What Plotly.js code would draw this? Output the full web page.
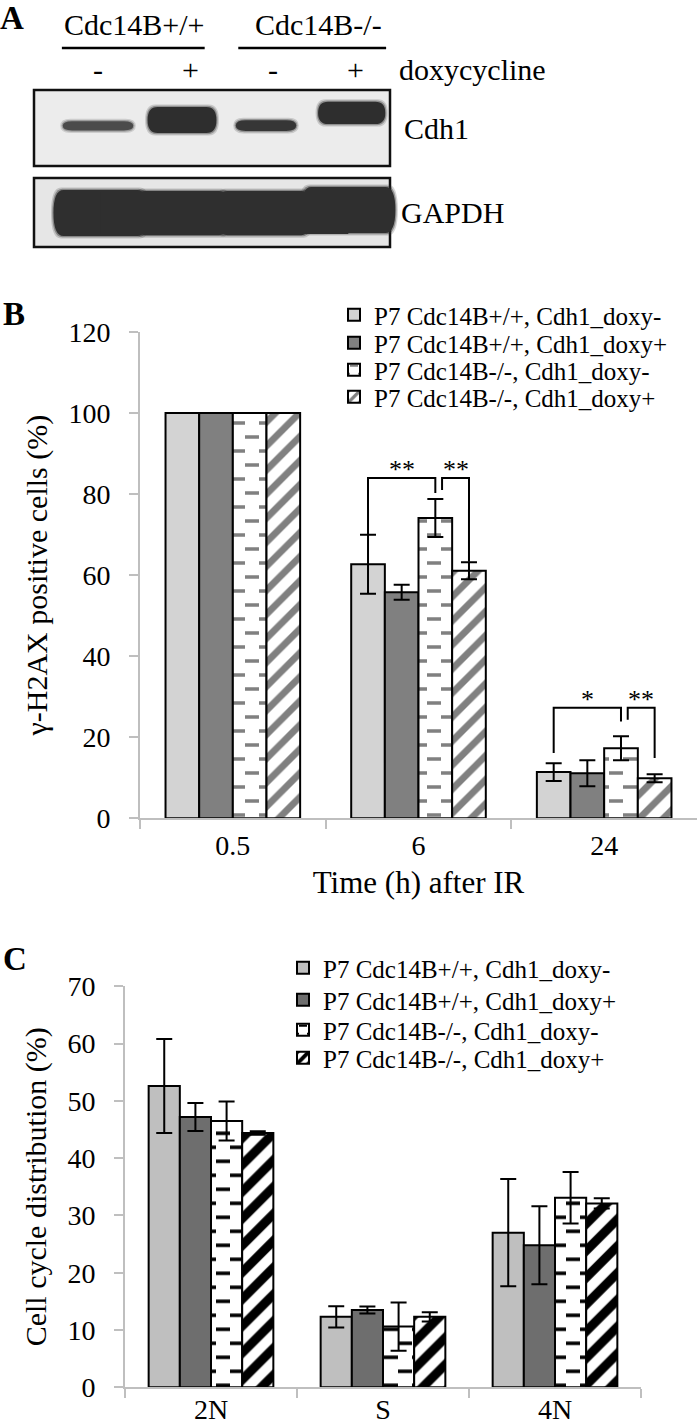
<!DOCTYPE html>
<html><head><meta charset="utf-8">
<script src="https://cdn.plot.ly/plotly-3.0.1.min.js"></script>
<style>html,body{margin:0;padding:0;background:#fff}#chart{width:700px;height:1427px}</style>
</head><body><div id="chart"></div>
<script>
// ---------- Data ----------
const seriesNames = ['P7 Cdc14B+/+, Cdh1_doxy-', 'P7 Cdc14B+/+, Cdh1_doxy+', 'P7 Cdc14B-/-, Cdh1_doxy-', 'P7 Cdc14B-/-, Cdh1_doxy+'];

// Panel B: gamma-H2AX positive cells (%)
const timeCats = ['0.5', '6', '24'];
const h2axMean = [
  [100, 62.7, 11.4],
  [100, 55.8, 11.1],
  [100, 74.1, 17.3],
  [100, 61.1, 9.9]
];
const h2axErr = [
  [null, 7.3, 2.2],
  [null, 1.85, 3.2],
  [null, 4.7, 2.95],
  [null, 2.1, 1.0]
];
const sigCat = [1, 1, 2, 2];
const sigFrom = [0, 2.2, 0, 2.2];
const sigTo = [2, 3, 2, 3];
const sigTop = [84.0, 84.0, 27.3, 27.3];
const sigLeftEnd = [70.0, 81.0, 16.1, 24.3];
const sigRightEnd = [80.3, 63.3, 23.9, 14.9];
const sigLabel = ['**', '**', '*', '**'];

// Panel C: cell cycle distribution (%)
const phaseCats = ['2N', 'S', '4N'];
const cycleMean = [
  [52.6, 12.3, 27.0],
  [47.2, 13.5, 24.8],
  [46.5, 10.6, 33.1],
  [44.4, 12.3, 32.1]
];
const cycleErr = [
  [8.2, 1.85, 9.35],
  [2.45, 0.6, 6.8],
  [3.4, 4.2, 4.5],
  [0.3, 0.8, 0.9]
];

// Panel A: western blot
const blotLanes = [1, 2, 3, 4];
const laneDoxy = ['-', '+', '-', '+'];
const genotypes = ['Cdc14B+/+', 'Cdc14B-/-'];
const cdh1Intensity = [0.12, 1.0, 0.2, 0.8];
const gapdhIntensity = [1.0, 0.96, 0.96, 1.0];

// ---------- Styles ----------
const FONT = 'Liberation Serif, Times New Roman, serif';
const W = 700, H = 1427;
const py = p => 1 - p / H;
const bargap = 0.275;
const barW = (1 - bargap) / 4;

const colorsB = ['#d3d3d3', '#808080', '#ffffff', '#ffffff'];
const patternsB = [
  {shape: ''}, {shape: ''},
  {shape: '-', fgcolor: '#808080', bgcolor: '#ffffff', size: 14, solidity: 0.25, fillmode: 'replace'},
  {shape: '/', fgcolor: '#808080', bgcolor: '#ffffff', size: 17, solidity: 0.4, fillmode: 'replace'}
];
const colorsC = ['#bfbfbf', '#6e6e6e', '#ffffff', '#ffffff'];
const patternsC = [
  {shape: ''}, {shape: ''},
  {shape: '-', fgcolor: '#000000', bgcolor: '#ffffff', size: 14, solidity: 0.25, fillmode: 'replace'},
  {shape: '/', fgcolor: '#000000', bgcolor: '#ffffff', size: 19, solidity: 0.48, fillmode: 'replace'}
];
const legendRowsB = [315, 343, 370, 397];
const legendRowsC = [968, 1000, 1030, 1058];

const traces = [];
for (let i = 0; i < 4; i++) {
  traces.push({
    type: 'bar', x: timeCats, y: h2axMean[i], name: seriesNames[i],
    xaxis: 'x', yaxis: 'y', legend: i === 0 ? 'legend' : 'legend' + (i + 1), showlegend: true,
    marker: {color: colorsB[i], line: {color: '#000', width: 2}, pattern: patternsB[i]},
    error_y: {type: 'data', array: h2axErr[i], visible: true, color: '#000', thickness: 2, width: 8},
    hoverinfo: 'skip'
  });
}
for (let i = 0; i < 4; i++) {
  traces.push({
    type: 'bar', x: phaseCats, y: cycleMean[i], name: seriesNames[i],
    xaxis: 'x2', yaxis: 'y2', legend: 'legend' + (i + 5), showlegend: true,
    marker: {color: colorsC[i], line: {color: '#000', width: 2}, pattern: patternsC[i]},
    error_y: {type: 'data', array: cycleErr[i], visible: true, color: '#000', thickness: 2, width: 8},
    hoverinfo: 'skip'
  });
}

const shapes = [];
const annotations = [];

const barX = (cat, idx) => cat + (idx - 1.5) * barW;
for (let k = 0; k < sigCat.length; k++) {
  const xl = barX(sigCat[k], sigFrom[k]);
  const xr = barX(sigCat[k], sigTo[k]);
  shapes.push({type: 'path', xref: 'x', yref: 'y',
    path: `M${xl},${sigLeftEnd[k]}L${xl},${sigTop[k]}L${xr},${sigTop[k]}L${xr},${sigRightEnd[k]}`,
    line: {color: '#000', width: 2}});
  annotations.push({xref: 'x', yref: 'y', x: (xl + xr) / 2, y: sigTop[k], text: sigLabel[k],
    showarrow: false, xanchor: 'center', yanchor: 'middle', yshift: 8, font: {family: FONT, size: 26, color: '#000'}});
}

// ---------- Panel A blot ----------
const laneToPx = 84;
const pxL = v => v / laneToPx;
const boxL = 1 + (34 - 98) / laneToPx, boxR = 1 + (390 - 98) / laneToPx;
shapes.push({type: 'rect', xref: 'x3', yref: 'y3', x0: boxL, x1: boxR, y0: 90, y1: 166,
  fillcolor: '#ececec', line: {color: '#111', width: 2.5}, layer: 'below'});
shapes.push({type: 'rect', xref: 'x3', yref: 'y3', x0: boxL, x1: boxR, y0: 178, y1: 247,
  fillcolor: '#e6e6e6', line: {color: '#111', width: 2.5}, layer: 'below'});

function band(cx, halfW, yT, yB, color, op) {
  const x0 = cx - halfW, x1 = cx + halfW, ym = (yT + yB) / 2, r = pxL(Math.min(10, (yB - yT)));
  return {type: 'path', xref: 'x3', yref: 'y3', layer: 'above',
    path: `M${x0},${ym}Q${x0},${yT} ${x0 + r},${yT}L${x1 - r},${yT}Q${x1},${yT} ${x1},${ym}Q${x1},${yB} ${x1 - r},${yB}L${x0 + r},${yB}Q${x0},${yB} ${x0},${ym}Z`,
    fillcolor: color, opacity: op, line: {width: 0}};
}
const cdh1Bottom = [130.5, 133, 131, 124];
const cdh1HalfW = [0.42, 0.41, 0.36, 0.40];
const cdh1Color = ['#444444', '#262626', '#2e2e2e', '#262626'];
for (let i = 0; i < blotLanes.length; i++) {
  const h = 7 + cdh1Intensity[i] * 19;
  const yB = cdh1Bottom[i], yT = yB - h;
  const cx = blotLanes[i] + (i === 3 ? 0.02 : 0);
  [[2.5, 0.18], [1.2, 0.35], [0, 0.92]].forEach(([g, op]) => {
    shapes.push(band(cx, cdh1HalfW[i] + pxL(g), yT - g, yB + g, cdh1Color[i], op));
  });
}
const gapdhTop = [190, 191, 191, 187];
const gapdhCx = [1.03, 2.0, 2.98, 3.98];
for (let i = 0; i < blotLanes.length; i++) {
  const h = 46 * gapdhIntensity[i];
  const yT = gapdhTop[i], yB = yT + h;
  [[2.5, 0.2], [1.2, 0.4]].forEach(([g, op]) => {
    shapes.push(band(gapdhCx[i], 0.56 + pxL(g), yT - g, yB + g, '#2d2d2d', op));
  });
}
for (let i = 0; i < blotLanes.length; i++) {
  const h = 46 * gapdhIntensity[i];
  const yT = gapdhTop[i], yB = yT + h;
  shapes.push(band(gapdhCx[i], 0.56, yT, yB, '#2f2f2f', 1));
}
shapes.push({type: 'rect', xref: 'x3', yref: 'y3', x0: gapdhCx[0], x1: gapdhCx[3], y0: 192, y1: 234,
  fillcolor: '#2f2f2f', opacity: 1, line: {width: 0}});

for (let g = 0; g < 2; g++) {
  const l0 = blotLanes[g * 2], l1 = blotLanes[g * 2 + 1];
  annotations.push({xref: 'x3', yref: 'y3', x: (l0 + l1) / 2 + (g === 0 ? -0.06 : 0.12), y: 24, text: genotypes[g],
    showarrow: false, xanchor: 'center', yanchor: 'middle', font: {family: FONT, size: 30, color: '#000'}});
  shapes.push({type: 'line', xref: 'x3', yref: 'y3', x0: l0 - 0.43 + (g ? 0.1 : 0), x1: l1 + 0.27 + (g ? 0.16 : 0), y0: 48, y1: 48,
    line: {color: '#000', width: 2.5}});
}
for (let i = 0; i < blotLanes.length; i++) {
  annotations.push({xref: 'x3', yref: 'y3', x: blotLanes[i] + [0, 0.1, 0.08, 0.07][i], y: 69, text: laneDoxy[i],
    showarrow: false, xanchor: 'center', yanchor: 'middle', font: {family: FONT, size: 30, color: '#000'}});
}
annotations.push({xref: 'x3', yref: 'y3', x: 1 + (397 - 98) / laneToPx, y: 69, xanchor: 'left', yanchor: 'middle', text: 'doxycycline',
  showarrow: false, font: {family: FONT, size: 30, color: '#000'}});
annotations.push({xref: 'x3', yref: 'y3', x: 1 + (402 - 98) / laneToPx, y: 128, xanchor: 'left', yanchor: 'middle', text: 'Cdh1',
  showarrow: false, font: {family: FONT, size: 30, color: '#000'}});
annotations.push({xref: 'x3', yref: 'y3', x: 1 + (399 - 98) / laneToPx, y: 212, xanchor: 'left', yanchor: 'middle', text: 'GAPDH',
  showarrow: false, font: {family: FONT, size: 30, color: '#000'}});

[['A', 12, 18], ['B', 14, 314], ['C', 15, 959]].forEach(([t, x, y]) => {
  annotations.push({xref: 'paper', yref: 'paper', x: x / W, y: py(y), text: '<b>' + t + '</b>',
    xanchor: 'center', yanchor: 'middle', showarrow: false, font: {family: FONT, size: 33, color: '#000'}});
});

const axisCommon = {
  showline: true, linecolor: '#bfbfbf', linewidth: 2, ticks: 'outside', tickcolor: '#bfbfbf',
  ticklen: 9, tickwidth: 2, showgrid: false, zeroline: false, automargin: false,
  tickfont: {family: FONT, size: 28, color: '#000'}, fixedrange: true
};

const layout = {
  width: W, height: H, margin: {l: 0, r: 0, t: 0, b: 0},
  paper_bgcolor: '#fff', plot_bgcolor: 'rgba(0,0,0,0)',
  barmode: 'group', bargap: bargap, bargroupgap: 0, showlegend: true,
  font: {family: FONT, color: '#000'},
  xaxis: Object.assign({}, axisCommon, {domain: [140 / W, 697 / W], anchor: 'y', type: 'category',
    tickson: 'boundaries', ticklabelstandoff: 1,
    title: {text: 'Time (h) after IR', font: {family: FONT, size: 31, color: '#000'}, standoff: 11}}),
  yaxis: Object.assign({}, axisCommon, {domain: [py(818.3), py(332)], anchor: 'x', range: [0, 120],
    tickvals: [0, 20, 40, 60, 80, 100, 120], ticklabelstandoff: 13,
    title: {text: 'γ-H2AX positive cells (%)', font: {family: FONT, size: 30, color: '#000'}, standoff: 12}}),
  xaxis2: Object.assign({}, axisCommon, {domain: [125 / W, 641 / W], anchor: 'y2', type: 'category',
    tickson: 'boundaries', ticklabelstandoff: -4}),
  yaxis2: Object.assign({}, axisCommon, {domain: [py(1387.3), py(986.3)], anchor: 'x2', range: [0, 70],
    tickvals: [0, 10, 20, 30, 40, 50, 60, 70], ticklabelstandoff: 13,
    title: {text: 'Cell cycle distribution (%)', font: {family: FONT, size: 30, color: '#000'}, standoff: 12}}),
  xaxis3: {domain: [0, 1], anchor: 'y3', range: [1 - 98 / laneToPx, 1 + (700 - 98) / laneToPx], visible: false, fixedrange: true},
  yaxis3: {domain: [py(250), 1], anchor: 'x3', range: [250, 0], visible: false, fixedrange: true},
  shapes: shapes, annotations: annotations
};

for (let i = 0; i < 8; i++) {
  const key = i === 0 ? 'legend' : 'legend' + (i + 1);
  const row = i < 4 ? legendRowsB[i] : legendRowsC[i - 4];
  const left = i < 4 ? 334 : 283;
  layout[key] = {x: left / W, xanchor: 'left', y: py(row), yanchor: 'middle', bgcolor: 'rgba(0,0,0,0)',
    borderwidth: 0, font: {family: FONT, size: 25, color: '#000'}};
}

// restyle the horizontal-line pattern into staggered dashes, as in the figure
function dashify(gd) {
  gd.querySelectorAll('pattern').forEach(p => {
    const path = p.querySelector('path');
    if (!path || p.dataset.dashed) return;
    const d = (path.getAttribute('d') || '').replace(/\s+/g, '');
    const m = /^M0,([\d.]+)L([\d.]+),([\d.]+)$/.exec(d);
    if (!m) return;
    const s = parseFloat(m[2]);
    p.dataset.dashed = '1';
    p.setAttribute('width', 2 * s);
    p.setAttribute('height', 2 * s);
    p.querySelectorAll('rect').forEach(r => { r.setAttribute('width', 2 * s); r.setAttribute('height', 2 * s); });
    path.setAttribute('d', `M${s / 2},${s / 2}H${1.5 * s}M${1.5 * s},${1.5 * s}H${2 * s}M0,${1.5 * s}H${s / 2}`);
  });
}

Plotly.newPlot('chart', traces, layout, {staticPlot: true, displayModeBar: false}).then(gd => {
  dashify(gd);
  setTimeout(() => dashify(gd), 50);
});
</script>
</body></html>
